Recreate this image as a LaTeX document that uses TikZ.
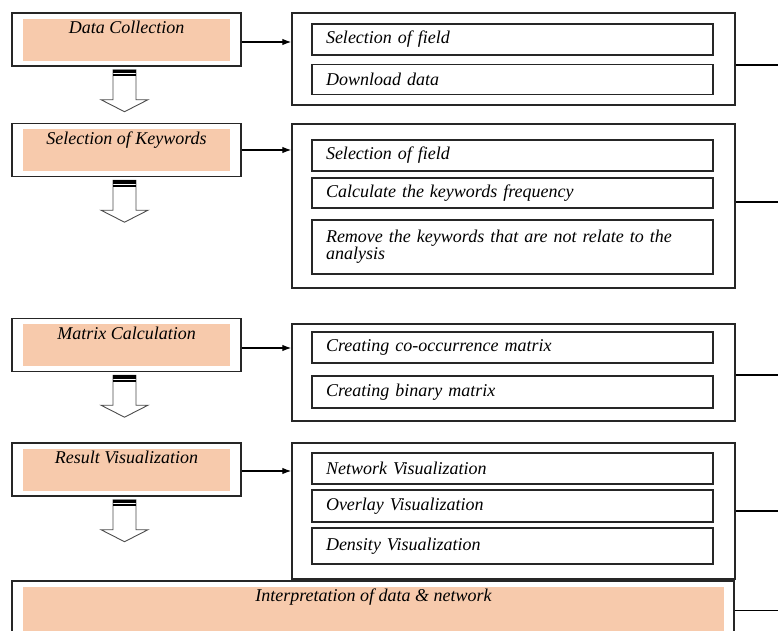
\documentclass[tikz,border=0pt]{standalone}
\usepackage{fontspec}
\setmainfont{Liberation Serif}
\usetikzlibrary{arrows.meta,calc}
\definecolor{peach}{HTML}{F7CAAC}

\begin{document}
\begin{tikzpicture}[x=1pt, y=-1pt,
        stage/.style={rectangle, draw=black!85, line width=1.4pt, minimum width=229pt, minimum height=53pt},
        stagefill/.style={rectangle, fill=peach, minimum width=207pt, minimum height=42pt},
        stagetext/.style={anchor=base, inner sep=0pt, font=\fontsize{18}{20}\selectfont\itshape},
        group/.style={rectangle, draw=black!85, line width=1.4pt, minimum width=443pt},
        task/.style={rectangle, draw=black!85, line width=1.4pt, minimum width=401pt, text width=373pt, inner xsep=14pt, align=left, font=\fontsize{18}{17}\selectfont\itshape},
        arrow/.style={-{Latex[length=9pt,width=6.5pt]}, line width=1.2pt},
        blockarrow/.style={draw=black!70, line width=0.9pt, fill=white},
        stripe/.style={fill=black}
    ]
        \useasboundingbox (0,0) rectangle (778,630);
        \clip (0,0) rectangle (778,630);

        % Steps on the left
        \node[stage] (dc) at (126.5,39.5) {};
        \node[stagefill] (dcf) at (dc) {};
        \node[stagetext] (dct) at ($(dcf.north)+(0,15.5)$) {Data Collection};

        \node[stage] (sk) at (126.5,150) {};
        \node[stagefill] (skf) at (sk) {};
        \node[stagetext] (skt) at ($(skf.north)+(0,15.5)$) {Selection of Keywords};

        \node[stage] (mc) at (126.5,345) {};
        \node[stagefill] (mcf) at (mc) {};
        \node[stagetext] (mct) at ($(mcf.north)+(0,15.5)$) {Matrix Calculation};

        \node[stage] (rv) at (126.5,469.5) {};
        \node[stagefill] (rvf) at (rv) {};
        \node[stagetext] (rvt) at ($(rvf.north)+(0,15.5)$) {Result Visualization};

        \node[stage, minimum width=722pt, minimum height=59pt] (ip) at (373,610.5) {};
        \node[stagefill, minimum width=701pt, minimum height=48pt] (ipf) at (373.5,611) {};
        \node[stagetext] (ipt) at ($(ipf.north)+(0,15)$) {Interpretation of data \& network};

        % Tasks on the right
        \node[group, minimum height=92pt] (g1) at (513.5,59) {};
        \node[task, minimum height=31pt] (s11) at (512.5,39.5) {Selection of field};
        \node[task, minimum height=30pt] (s12) at (512.5,79.5) {Download data};

        \node[group, minimum height=164pt] (g2) at (513.5,206) {};
        \node[task, minimum height=31pt] (s21) at (512.5,155.5) {Selection of field};
        \node[task, minimum height=30pt] (s22) at (512.5,193) {Calculate the keywords frequency};
        \node[task, minimum height=54pt] (s23) at (512.5,247) {Remove the keywords that are not relate to the analysis};

        \node[group, minimum height=97pt] (g3) at (513.5,372.5) {};
        \node[task, minimum height=31pt] (s31) at (512.5,347.5) {Creating co-occurrence matrix};
        \node[task, minimum height=32pt] (s32) at (512.5,392) {Creating binary matrix};

        \node[group, minimum height=136pt] (g4) at (513.5,511) {};
        \node[task, minimum height=31pt] (s41) at (512.5,468.5) {Network Visualization};
        \node[task, minimum height=32pt] (s42) at (512.5,506) {Overlay Visualization};
        \node[task, minimum height=36pt] (s43) at (512.5,546) {Density Visualization};

        % Connections
        \draw[arrow] ([yshift=-2.5pt]dc.east) -- ([yshift=-2.5pt]dc.east -| g1.west);
        \draw[arrow] (sk.east) -- (sk.east -| g2.west);
        \draw[arrow] ([yshift=-3pt]mc.east) -- ([yshift=-3pt]mc.east -| g3.west);
        \draw[arrow] ([yshift=-1.5pt]rv.east) -- ([yshift=-1.5pt]rv.east -| g4.west);

        \draw[line width=1.2pt] ([yshift=-6pt]g1.east) -- ++(60,0);
        \draw[line width=1.2pt] ([yshift=4pt]g2.east) -- ++(60,0);
        \draw[line width=1.2pt] ([yshift=-2.5pt]g3.east) -- ++(60,0);
        \draw[line width=1.2pt] (g4.east) -- ++(60,0);
        \draw[line width=1.2pt] (ip.east) -- ++(60,0);

        % Block arrows between the steps
        \draw[blockarrow] ($(dc.south)+(-13.5,3)$) -- ++(0,30) -- ++(-12,0) -- ++(23.5,12) -- ++(23.5,-12) -- ++(-12,0) -- ++(0,-30) -- cycle;
        \fill[stripe] ($(dc.south)+(-13.5,3)$) rectangle ++(23,3.5);
        \fill[stripe] ($(dc.south)+(-13.5,7.7)$) rectangle ++(23,2);

        \draw[blockarrow] ($(sk.south)+(-13.5,3)$) -- ++(0,30) -- ++(-12,0) -- ++(23.5,12) -- ++(23.5,-12) -- ++(-12,0) -- ++(0,-30) -- cycle;
        \fill[stripe] ($(sk.south)+(-13.5,3)$) rectangle ++(23,3.5);
        \fill[stripe] ($(sk.south)+(-13.5,7.7)$) rectangle ++(23,2);

        \draw[blockarrow] ($(mc.south)+(-13.5,3)$) -- ++(0,30) -- ++(-12,0) -- ++(23.5,12) -- ++(23.5,-12) -- ++(-12,0) -- ++(0,-30) -- cycle;
        \fill[stripe] ($(mc.south)+(-13.5,3)$) rectangle ++(23,3.5);
        \fill[stripe] ($(mc.south)+(-13.5,7.7)$) rectangle ++(23,2);

        \draw[blockarrow] ($(rv.south)+(-13.5,3)$) -- ++(0,30) -- ++(-12,0) -- ++(23.5,12) -- ++(23.5,-12) -- ++(-12,0) -- ++(0,-30) -- cycle;
        \fill[stripe] ($(rv.south)+(-13.5,3)$) rectangle ++(23,3.5);
        \fill[stripe] ($(rv.south)+(-13.5,7.7)$) rectangle ++(23,2);

    \end{tikzpicture}
\end{document}
